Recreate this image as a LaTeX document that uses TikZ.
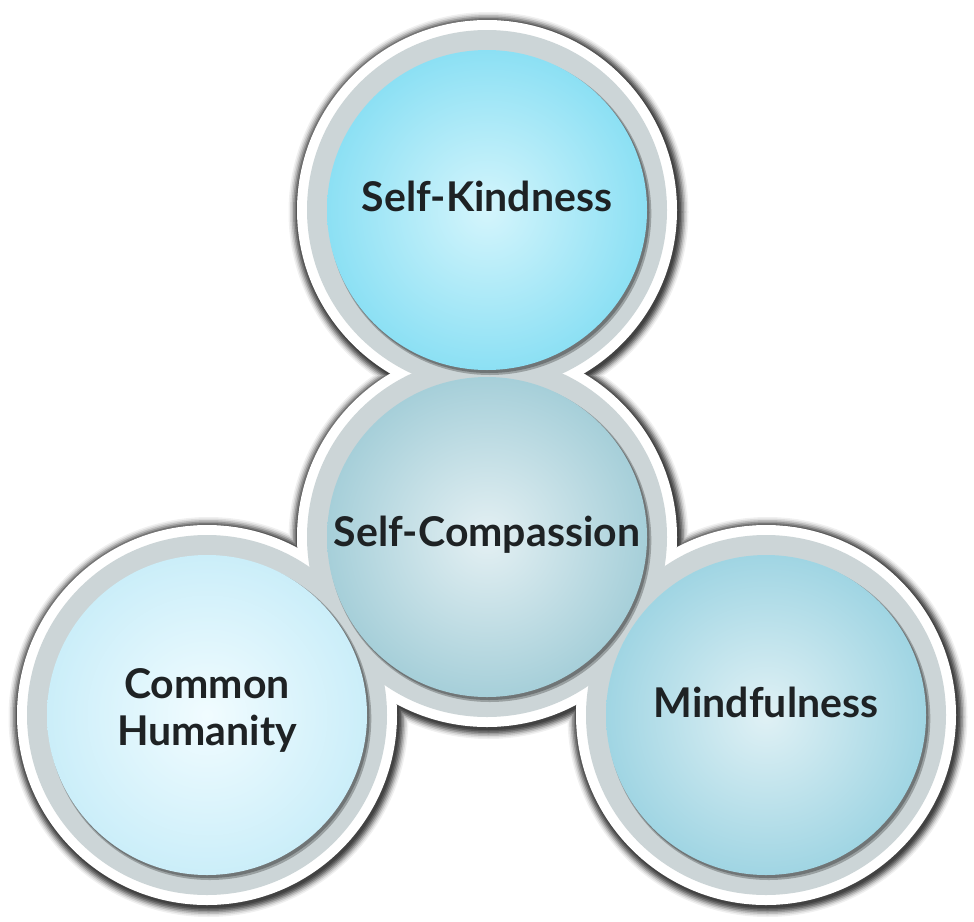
\documentclass[tikz,border=0pt]{standalone}
\usepackage{fontspec}
\setmainfont{Lato}
\usetikzlibrary{backgrounds}
\definecolor{ink}{HTML}{1E2224}
\definecolor{ringgray}{HTML}{CCD5D7}
\definecolor{kindin}{HTML}{D4F5FC}
\definecolor{kindout}{HTML}{8CE0F4}
\definecolor{compin}{HTML}{E4F0F3}
\definecolor{compout}{HTML}{A6CFD9}
\definecolor{humin}{HTML}{F1FCFF}
\definecolor{humout}{HTML}{CBEEF9}
\definecolor{mindin}{HTML}{E0F1F5}
\definecolor{mindout}{HTML}{A0D5E3}
\tikzset{%
  every disc/.style={
    circle,
    minimum size=320pt,
    inner sep=0pt,
    shading=radial
  },
  disc label/.style={
    align=center,
    text=ink,
    font=\fontsize{41}{47}\selectfont\bfseries
  },
}

\begin{document}
\begin{tikzpicture}[x=1pt,y=-1pt]
        \useasboundingbox (0,0) rectangle (974,921);

        \node[every disc,inner color=kindin,outer color=kindout] (kind) at (487,210) {};
        \node[every disc,inner color=compin,outer color=compout] (comp) at (487,537) {};
        \node[every disc,inner color=humin,outer color=humout] (human) at (207,715) {};
        \node[every disc,inner color=mindin,outer color=mindout] (mind) at (766,715) {};

        \node[disc label] (kindtext) at ([shift={(0,-14)}]kind) {Self-Kindness};
        \node[disc label] (comptext) at ([shift={(0,-2)}]comp) {Self-Compassion};
        \node[disc label] (humantext) at ([shift={(0,-5)}]human) {Common\\Humanity};
        \node[disc label] (mindtext) at ([shift={(0,-13)}]mind) {Mindfulness};

        % halo, white rim, gray ring and inner shadow behind the discs
        \begin{pgfonlayer}{background}
        \foreach \r/\c in {200/black!6,198.5/black!14,197/black!26,195.5/black!40,194/black!54,192.5/black!66,191/black!74}
          \foreach \n in {kind,comp,human,mind}
            \fill[\c] ([shift={(1.5,2)}]\n.center) circle (\r pt);
        \foreach \n in {kind,comp,human,mind}
          \fill[white] (\n.center) circle (190pt);
        \foreach \n in {kind,comp,human,mind}
          \fill[ringgray] (\n.center) circle (180pt);
        \foreach \s/\r/\c in {3.5/161.5/ringgray!75!black,2.5/160.5/ringgray!55!black}
          \foreach \n in {kind,comp,human,mind}
            \fill[\c] ([shift={(\s*0.8,\s)}]\n.center) circle (\r pt);
        \end{pgfonlayer}
\end{tikzpicture}
\end{document}
